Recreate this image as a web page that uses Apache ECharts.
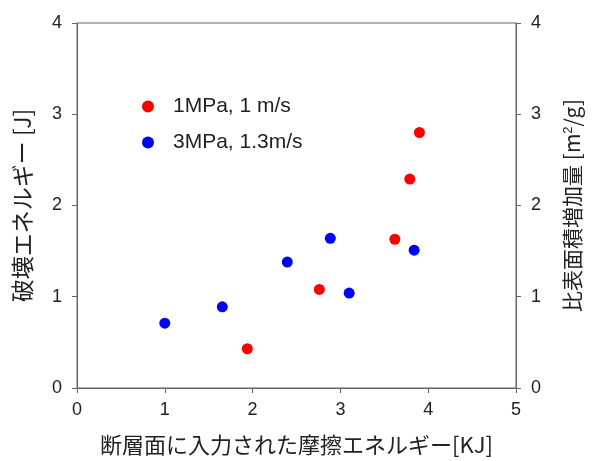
<!DOCTYPE html>
<html>
<head>
<meta charset="utf-8">
<script src="https://cdn.jsdelivr.net/npm/echarts@6/dist/echarts.min.js"></script>
<style>
html,body{margin:0;padding:0;background:#fff;}
#c{width:593px;height:461px;}
</style>
</head>
<body>
<div id="c"></div>
<script>
var seriesNames = ['1MPa, 1 m/s', '3MPa, 1.3m/s'];
var redX = [1.94, 2.76, 3.62, 3.79, 3.90];
var redY = [0.43, 1.08, 1.63, 2.29, 2.80];
var blueX = [1.00, 1.655, 2.395, 2.885, 3.10, 3.84];
var blueY = [0.71, 0.89, 1.38, 1.64, 1.04, 1.51];
var xTitle = '断層面に入力された摩擦エネルギー[KJ]';
var yLeftTitle = '破壊エネルギー [J]';

function pairs(xs, ys){ return xs.map(function(x,i){ return [x, ys[i]]; }); }

var FF = 'Liberation Sans, Arial, Noto Sans CJK JP, sans-serif';
var axisCol = '#666';
var txtCol = '#222';

var chart = echarts.init(document.getElementById('c'), null, {renderer:'canvas'});
chart.setOption({
  animation: false,
  textStyle: {fontFamily: FF},
  grid: {left: 77, right: 77, top: 23, bottom: 73, show: true, borderColor: axisCol, borderWidth: 1, backgroundColor: 'transparent'},
  legend: {
    orient: 'vertical', left: 137, top: 91, itemWidth: 12, itemHeight: 12, itemGap: 15,
    icon: 'circle',
    textStyle: {fontSize: 21, color: txtCol, fontFamily: FF, padding: [0,0,0,14]},
    data: seriesNames
  },
  xAxis: {
    type: 'value', min: 0, max: 5, interval: 1, position: 'bottom',
    name: xTitle, nameLocation: 'middle', nameGap: 46,
    nameTextStyle: {fontSize: 22, color: txtCol, fontFamily: 'Noto Sans CJK JP, Liberation Sans'},
    axisLine: {show: true, lineStyle: {color: axisCol}},
    axisTick: {show: true, inside: false, length: 5, lineStyle: {color: axisCol}},
    axisLabel: {fontSize: 18, color: txtCol, margin: 13, fontFamily: FF},
    splitLine: {show: false}
  },
  yAxis: [{
    type: 'value', min: 0, max: 4, interval: 1, position: 'left',
    name: yLeftTitle, nameLocation: 'middle', nameGap: 43, nameRotate: 90,
    nameTextStyle: {fontSize: 23, color: txtCol, fontFamily: 'Noto Sans CJK JP, Liberation Sans'},
    axisLine: {show: true, lineStyle: {color: axisCol}},
    axisTick: {show: true, inside: false, length: 5, lineStyle: {color: axisCol}},
    axisLabel: {fontSize: 18, color: txtCol, margin: 15, fontFamily: FF},
    splitLine: {show: false}
  }, {
    type: 'value', min: 0, max: 4, interval: 1, position: 'right',
    name: '比表面積増加量 [m{sup|2}/g]', nameLocation: 'middle', nameGap: 46, nameRotate: 90,
    nameTextStyle: {fontSize: 21, color: txtCol, fontFamily: 'Noto Sans CJK JP, Liberation Sans',
      rich: {sup: {fontSize: 13, color: txtCol, verticalAlign: 'top', padding: [0,0,8,0], fontFamily: 'Liberation Sans'}}},
    axisLine: {show: true, lineStyle: {color: axisCol}},
    axisTick: {show: true, inside: false, length: 5, lineStyle: {color: axisCol}},
    axisLabel: {fontSize: 18, color: txtCol, margin: 15, fontFamily: FF},
    splitLine: {show: false}
  }],
  series: [{
    name: seriesNames[0], type: 'scatter', yAxisIndex: 0, symbol: 'circle', symbolSize: 11,
    itemStyle: {color: '#ff0000', opacity: 1}, data: pairs(redX, redY)
  }, {
    name: seriesNames[1], type: 'scatter', yAxisIndex: 0, symbol: 'circle', symbolSize: 11,
    itemStyle: {color: '#0000ff', opacity: 1}, data: pairs(blueX, blueY)
  }]
});
</script>
</body>
</html>
